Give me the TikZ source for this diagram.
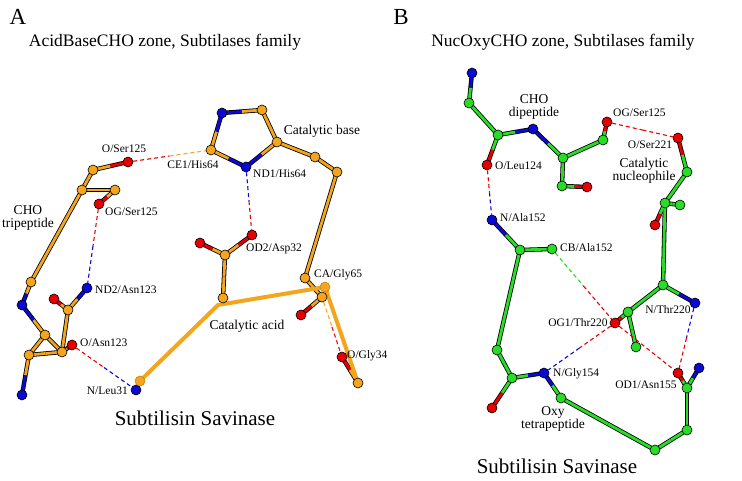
\documentclass[tikz,border=0pt]{standalone}
\usepackage{fontspec}
\setmainfont{Liberation Serif}
\usetikzlibrary{calc}
\pgfdeclarelayer{back}\pgfdeclarelayer{mid}
\pgfsetlayers{back,mid,main}
\definecolor{co}{RGB}{243,165,30}
\definecolor{cg}{RGB}{40,220,40}
\definecolor{cn}{RGB}{10,10,210}
\definecolor{cr}{RGB}{230,0,0}
\tikzset{
 atom/.style={circle,draw=black,line width=0.6pt,minimum size=10pt,inner sep=0pt,fill=#1},
 lbl/.style={font=\fontsize{11.5}{12}\selectfont,inner sep=1pt},
 big/.style={font=\fontsize{13.5}{13.5}\selectfont,inner sep=1pt,align=center},
 ttl/.style={font=\fontsize{17.5}{18}\selectfont},
 sub/.style={font=\fontsize{21}{22}\selectfont},
 hb/.style={dashed,dash pattern=on 4pt off 3pt,line width=1.1pt},
 trace/.style={co,line width=4pt,line cap=round}
}
\newcommand\bd[4]{%
 \begin{pgfonlayer}{back}\draw[black,line width=4.4pt,line cap=round] (#1.center)--(#2.center);\end{pgfonlayer}
 \begin{pgfonlayer}{mid}\draw[#3,line width=2.8pt] (#1.center)--($(#1.center)!0.5!(#2.center)$);
 \draw[#4,line width=2.8pt] ($(#1.center)!0.5!(#2.center)$)--(#2.center);\end{pgfonlayer}}
\newcommand\hbd[4]{%
 \draw[hb,#3] (#1)--($(#1)!0.5!(#2)$);\draw[hb,#4] ($(#1)!0.5!(#2)$)--(#2);}
\begin{document}
\begin{tikzpicture}[x=1pt,y=-1pt]
\useasboundingbox (0,0) rectangle (742,481);
% ---------- Panel A ----------
\node[font=\fontsize{23}{24}\selectfont] (tA) at (18,17) {A};
\node[ttl] (tA2) at (165,42) {AcidBaseCHO zone, Subtilases family};
\node[sub] (sA) at (195,418) {Subtilisin Savinase};
\node[atom=cn] (a1) at (22,395) {};
\node[atom=co] (a2) at (29,355) {};
\node[atom=co] (a3) at (62,352) {};
\node[atom=co] (a4) at (45,335) {};
\node[atom=cn] (a5) at (22,305) {};
\node[atom=co] (a6) at (31,282) {};
\node[atom=co] (a7) at (82,190) {};
\node[atom=co] (a8) at (93,170) {};
\node[atom=cr] (a9) at (128,162) {};
\node[atom=co] (a10) at (115,190) {};
\node[atom=cr] (a11) at (99,204) {};
\node[atom=cn] (a12) at (87,288) {};
\node[atom=co] (a13) at (68,310) {};
\node[atom=cr] (a14) at (54,299) {};
\node[atom=cr] (a15) at (72,345) {};
\node[atom=cn] (l31) at (136,390) {};
\node[atom=co,draw=co!80!black] (l31c) at (140,381) {};
\node[atom=co] (d1) at (223,298) {};
\node[atom=co] (d2) at (225,255) {};
\node[atom=cr] (d3) at (200,243) {};
\node[atom=cr] (d4) at (252,235) {};
\node[atom=cn] (h1) at (246,167) {};
\node[atom=co] (h2) at (211,150) {};
\node[atom=cn] (h3) at (222,113) {};
\node[atom=co] (h4) at (262,110) {};
\node[atom=co] (h5) at (277,142) {};
\node[atom=co] (h6) at (315,157) {};
\node[atom=co] (h7) at (337,172) {};
\node[atom=co] (g1) at (305,278) {};
\node[atom=co] (g2) at (322,297) {};
\node[atom=cr] (g3) at (301,315) {};
\node[atom=co,draw=co!80!black] (g4) at (325,287) {};
\node[atom=cr] (g5) at (342,357) {};
\node[atom=co] (g6) at (358,383) {};
\coordinate (j1) at (218,305);
\bd{a1}{a2}{cn}{co}\bd{a2}{a3}{co}{co}\bd{a2}{a4}{co}{co}\bd{a4}{a3}{co}{co}
\bd{a4}{a5}{co}{cn}\bd{a5}{a6}{cn}{co}\bd{a6}{a7}{co}{co}\bd{a7}{a8}{co}{co}
\bd{a8}{a9}{co}{cr}\bd{a7}{a10}{co}{co}\bd{a10}{a11}{co}{cr}\bd{a3}{a13}{co}{co}
\bd{a13}{a14}{co}{cr}\bd{a13}{a12}{co}{cn}\bd{a3}{a15}{co}{cr}
\bd{h1}{h2}{cn}{co}\bd{h2}{h3}{co}{cn}\bd{h3}{h4}{cn}{co}\bd{h4}{h5}{co}{co}
\bd{h5}{h1}{co}{cn}\bd{h5}{h6}{co}{co}\bd{h6}{h7}{co}{co}\bd{h7}{g1}{co}{co}
\bd{g1}{g2}{co}{co}\bd{g2}{g3}{co}{cr}\bd{g5}{g6}{cr}{co}
\bd{d1}{d2}{co}{co}\bd{d2}{d3}{co}{cr}\bd{d2}{d4}{co}{cr}
\begin{pgfonlayer}{back}
\draw[trace,line join=round] (l31c.center)--(j1)--(g4.center)--(g6.center);
\end{pgfonlayer}
\hbd{a9}{h2}{cr}{co}\hbd{h1}{d4}{cn}{cr}\hbd{a11}{a12}{cr}{cn}
\hbd{a15}{l31}{cr}{cn}\hbd{g2}{g5}{co}{cr}
\node[lbl] (la1) at (124,149) {O/Ser125};
\node[lbl] (la2) at (193,165) {CE1/His64};
\node[lbl,anchor=west] (la3) at (252,174) {ND1/His64};
\node[lbl,anchor=west] (la4) at (104,212) {OG/Ser125};
\node[big] (la5) at (28,218) {CHO\\tripeptide};
\node[lbl,anchor=west] (la6) at (94,290) {ND2/Asn123};
\node[lbl,anchor=west] (la7) at (79,343) {O/Asn123};
\node[lbl,anchor=east] (la8) at (129,391) {N/Leu31};
\node[big] (la9) at (247,326) {Catalytic acid};
\node[lbl,anchor=west] (la10) at (245,249) {OD2/Asp32};
\node[lbl,anchor=west] (la11) at (313,275) {CA/Gly65};
\node[lbl,anchor=west] (la12) at (346,356) {O/Gly34};
\node[big] (la13) at (322,131) {Catalytic base};
% ---------- Panel B ----------
\node[font=\fontsize{23}{24}\selectfont] (tB) at (401,17) {B};
\node[ttl] (tB2) at (563,42) {NucOxyCHO zone, Subtilases family};
\node[sub] (sB) at (557,466) {Subtilisin Savinase};
\node[atom=cn] (b1) at (472,73) {};
\node[atom=cg] (b2) at (469,103) {};
\node[atom=cg] (b3) at (498,135) {};
\node[atom=cn] (b4) at (533,129) {};
\node[atom=cg] (b5) at (563,158) {};
\node[atom=cg] (b6) at (603,140) {};
\node[atom=cr] (b7) at (607,122) {};
\node[atom=cg] (b8) at (562,186) {};
\node[atom=cr] (b9) at (587,187) {};
\node[atom=cr] (b10) at (487,165) {};
\node[atom=cr] (s221) at (678,138) {};
\node[atom=cg] (b11) at (687,172) {};
\node[atom=cg] (b12) at (665,203) {};
\node[atom=cg] (b13) at (680,205) {};
\node[atom=cr] (b14) at (655,225) {};
\node[atom=cg] (b15) at (663,285) {};
\node[atom=cn] (t220) at (695,303) {};
\node[atom=cg] (b16) at (628,312) {};
\node[atom=cr] (og1) at (615,323) {};
\node[atom=cg] (b17) at (636,347) {};
\node[atom=cn] (a152) at (492,220) {};
\node[atom=cg] (b18) at (520,250) {};
\node[atom=cg] (cb) at (552,249) {};
\node[atom=cg] (b19) at (497,350) {};
\node[atom=cg] (b20) at (512,378) {};
\node[atom=cr] (b20o) at (492,408) {};
\node[atom=cn] (g154) at (544,373) {};
\node[atom=cg] (b21) at (561,398) {};
\node[atom=cg] (b22) at (655,450) {};
\node[atom=cg] (b23) at (687,430) {};
\node[atom=cg] (b24) at (687,388) {};
\node[atom=cr] (od1) at (678,373) {};
\node[atom=cn] (nd2) at (699,368) {};
\bd{b1}{b2}{cn}{cg}\bd{b2}{b3}{cg}{cg}\bd{b3}{b4}{cg}{cn}\bd{b3}{b10}{cg}{cr}
\bd{b4}{b5}{cn}{cg}\bd{b5}{b6}{cg}{cg}\bd{b6}{b7}{cg}{cr}\bd{b5}{b8}{cg}{cg}
\bd{b8}{b9}{cg}{cr}\bd{s221}{b11}{cr}{cg}\bd{b11}{b12}{cg}{cg}\bd{b12}{b13}{cg}{cg}
\bd{b12}{b14}{cg}{cr}\bd{b12}{b15}{cg}{cg}\bd{b15}{t220}{cg}{cn}\bd{b15}{b16}{cg}{cg}
\bd{b16}{og1}{cg}{cr}\bd{b16}{b17}{cg}{cg}\bd{a152}{b18}{cn}{cg}\bd{b18}{cb}{cg}{cg}
\bd{b18}{b19}{cg}{cg}\bd{b19}{b20}{cg}{cg}\bd{b20}{b20o}{cg}{cr}\bd{b20}{g154}{cg}{cn}
\bd{g154}{b21}{cn}{cg}\bd{b21}{b22}{cg}{cg}\bd{b22}{b23}{cg}{cg}\bd{b23}{b24}{cg}{cg}
\bd{b24}{od1}{cg}{cr}\bd{b24}{nd2}{cg}{cn}
\hbd{b10}{a152}{cr}{cn}\hbd{b7}{s221}{cr}{cr}\hbd{cb}{og1}{cg}{cr}
\hbd{og1}{g154}{cr}{cn}\hbd{og1}{od1}{cr}{cr}\hbd{t220}{od1}{cn}{cr}
\node[big] (lb1) at (534,107) {CHO\\dipeptide};
\node[lbl,anchor=west] (lb2) at (612,113) {OG/Ser125};
\node[lbl] (lb3) at (650,145) {O/Ser221};
\node[big] (lb4) at (644,171) {Catalytic\\nucleophile};
\node[lbl,anchor=west] (lb5) at (494,166) {O/Leu124};
\node[lbl,anchor=west] (lb6) at (499,218) {N/Ala152};
\node[lbl,anchor=west] (lb7) at (559,248) {CB/Ala152};
\node[lbl] (lb8) at (668,310) {N/Thr220};
\node[lbl] (lb9) at (578,323) {OG1/Thr220};
\node[lbl,anchor=west] (lb10) at (552,374) {N/Gly154};
\node[lbl] (lb11) at (646,385) {OD1/Asn155};
\node[big] (lb12) at (553,419) {Oxy\\tetrapeptide};
\end{tikzpicture}
\end{document}
